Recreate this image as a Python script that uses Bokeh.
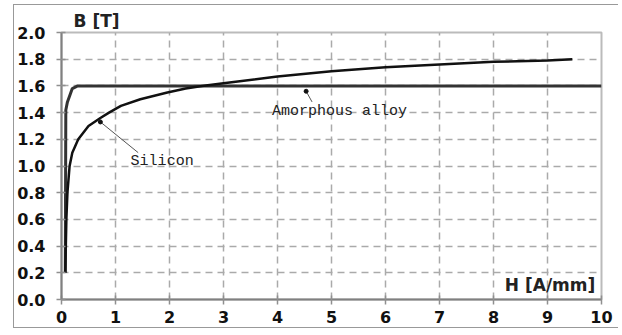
from bokeh.plotting import figure
from bokeh.models import Range1d, Label, FixedTicker
from bokeh.embed import file_html
from bokeh.resources import INLINE

# Data
silicon_h = [0.07, 0.08, 0.09, 0.11, 0.15, 0.2, 0.31, 0.5, 0.72, 0.88, 1.1, 1.46, 1.96, 2.3, 2.6, 3.0, 4.0, 5.0, 6.0, 7.0, 8.0, 9.0, 9.46]
silicon_b = [0.2, 0.4, 0.6, 0.8, 1.0, 1.1, 1.2, 1.3, 1.36, 1.4, 1.45, 1.5, 1.55, 1.58, 1.6, 1.62, 1.67, 1.71, 1.74, 1.76, 1.78, 1.79, 1.8]
amorph_h = [0.07, 0.08, 0.11, 0.2, 0.3, 10.0]
amorph_b = [0.2, 1.42, 1.48, 1.58, 1.6, 1.6]

x_ticks = [0, 1, 2, 3, 4, 5, 6, 7, 8, 9, 10]
y_ticks = [0.0, 0.2, 0.4, 0.6, 0.8, 1.0, 1.2, 1.4, 1.6, 1.8, 2.0]

# annotation pointers (curve point -> label end)
sil_ptr_h = [0.72, 1.42]
sil_ptr_b = [1.33, 1.10]
am_ptr_h = [4.53, 4.64]
am_ptr_b = [1.56, 1.48]

p = figure(width=605, height=324, output_backend="svg", toolbar_location=None,
           x_range=Range1d(0, 10), y_range=Range1d(0, 2),
           min_border_left=47, min_border_right=18, min_border_top=27, min_border_bottom=30)
p.margin = (4, 0, 0, 13)
p.styles = {"border-left": "1.5px solid #999999", "border-top": "1.5px solid #999999",
            "border-bottom": "1.5px solid #999999", "border-right": "none"}

p.title.text = "B [T]"
p.title.align = "left"
p.title.text_font = "DejaVu Sans"
p.title.text_font_style = "bold"
p.title.text_font_size = "17px"
p.title.text_color = "#222222"
p.title.offset = 12
p.title.standoff = 4

p.background_fill_color = "white"
p.border_fill_color = "white"
p.outline_line_color = "#bbbbbb"
p.outline_line_width = 2

for ax in (p.xaxis[0], p.yaxis[0]):
    ax.axis_line_color = "#808080"
    ax.axis_line_width = 2
    ax.major_tick_line_color = "#909090"
    ax.major_tick_line_width = 1.5
    ax.major_tick_in = 4
    ax.major_tick_out = 5
    ax.minor_tick_line_color = None
    ax.major_label_text_font = "DejaVu Sans"
    ax.major_label_text_font_style = "bold"
    ax.major_label_text_font_size = "16px"
    ax.major_label_text_color = "#111111"

p.xaxis.ticker = FixedTicker(ticks=x_ticks)
p.yaxis.ticker = FixedTicker(ticks=y_ticks)
p.yaxis.major_label_overrides = {t: f"{t:.1f}" for t in y_ticks}
p.xaxis.major_label_standoff = 6
p.yaxis.major_label_standoff = 11

p.grid.grid_line_color = "#aaaaaa"
p.grid.grid_line_dash = "7 5"
p.grid.grid_line_width = 1.5

p.line(amorph_h, amorph_b, line_color="#333333", line_width=3)
p.line(silicon_h, silicon_b, line_color="#111111", line_width=2.5)

p.segment(x0=[sil_ptr_h[0]], y0=[sil_ptr_b[0]], x1=[sil_ptr_h[1]], y1=[sil_ptr_b[1]], line_color="#555555", line_width=1)
p.segment(x0=[am_ptr_h[0]], y0=[am_ptr_b[0]], x1=[am_ptr_h[1]], y1=[am_ptr_b[1]], line_color="#555555", line_width=1)
p.scatter([sil_ptr_h[0], am_ptr_h[0]], [sil_ptr_b[0], am_ptr_b[0]], size=4, color="#111111")

p.add_layout(Label(x=1.28, y=1.03, text="Silicon", text_font="Liberation Mono",
                   text_font_size="15px", text_baseline="middle", text_color="#222222"))
p.add_layout(Label(x=3.9, y=1.41, text="Amorphous alloy", text_font="Liberation Mono",
                   text_font_size="15px", text_baseline="middle", text_color="#222222"))
p.add_layout(Label(x=8.21, y=0.11, text="H [A/mm]", text_font="DejaVu Sans", text_font_style="bold",
                   text_font_size="17px", text_baseline="middle", text_color="#222222"))

open("out.html", "w").write(file_html(p, INLINE))
